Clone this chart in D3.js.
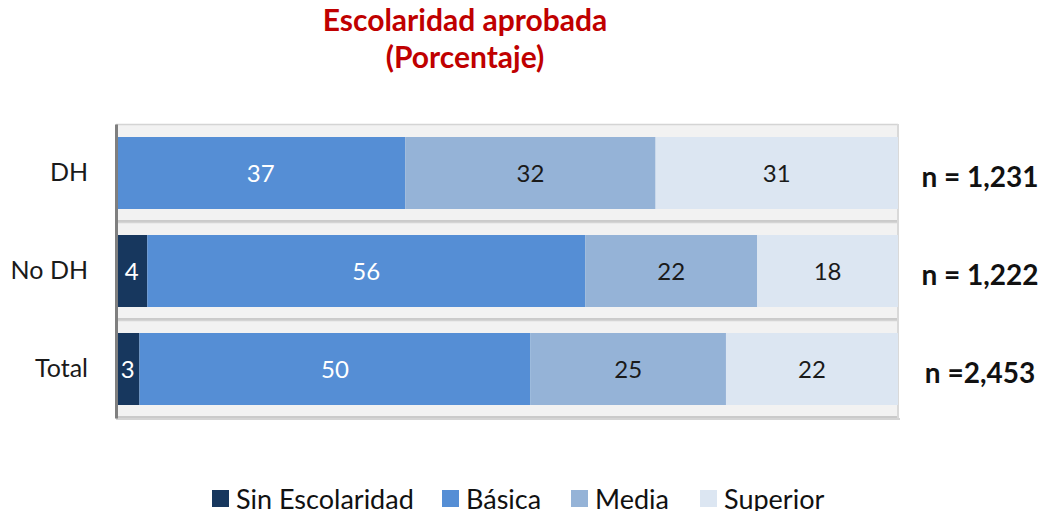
<!DOCTYPE html>
<html>
<head>
<meta charset="utf-8">
<script src="https://cdn.jsdelivr.net/npm/d3@7/dist/d3.min.js"></script>
<style>
  body { margin: 0; background: #fff; }
  svg { display: block; font-family: Lato, "Open Sans", sans-serif; }
</style>
</head>
<body>
<div id="chart"></div>
<script>
const categories = ["DH", "No DH", "Total"];
const series = ["Sin Escolaridad", "Básica", "Media", "Superior"];
const sinEscolaridad = [0, 4, 3];
const basica = [37, 56, 50];
const media = [32, 22, 25];
const superior = [31, 18, 22];
const nLabels = ["n = 1,231", "n = 1,222", "n =2,453"];
const colors = ["#17375e", "#558ed5", "#95b3d7", "#dce6f2"];
const labelColors = ["#fff", "#fff", "#1a1a1a", "#1a1a1a"];

const width = 1045, height = 511;
const margin = { top: 124, right: 147, bottom: 93, left: 116 };
const innerWidth = width - margin.left - margin.right;
const innerHeight = height - margin.top - margin.bottom;

const rows = categories.map((c, i) => ({
  cat: c,
  "Sin Escolaridad": sinEscolaridad[i],
  "Básica": basica[i],
  "Media": media[i],
  "Superior": superior[i]
}));
const stacked = d3.stack().keys(series)(rows);

const xScale = d3.scaleLinear().domain([0, 100]).range([0, innerWidth]);
const yScale = d3.scaleBand().domain(categories).range([0, innerHeight]).paddingInner(0);
const barPad = 13;

const svg = d3.select("#chart").append("svg").attr("width", width).attr("height", height);

svg.append("text").attr("x", 465).attr("y", 31).attr("text-anchor", "middle")
  .attr("font-size", 30).attr("font-weight", "bold").attr("fill", "#c00000").text("Escolaridad aprobada");
svg.append("text").attr("x", 465).attr("y", 68).attr("text-anchor", "middle")
  .attr("font-size", 30).attr("font-weight", "bold").attr("fill", "#c00000").text("(Porcentaje)");

const chart = svg.append("g").attr("transform", `translate(${margin.left},${margin.top})`);

// plot wall bands
const bands = chart.selectAll(".band").data(categories).enter().append("g").attr("class", "band");
bands.append("rect")
  .attr("x", 0).attr("y", d => yScale(d))
  .attr("width", innerWidth).attr("height", yScale.bandwidth())
  .attr("fill", "#f2f2f2");
bands.append("line")
  .attr("x1", 0).attr("x2", innerWidth)
  .attr("y1", d => yScale(d) + 0.5).attr("y2", d => yScale(d) + 0.5)
  .attr("stroke", "#d4d4d4").attr("stroke-width", 1.5);
bands.append("line")
  .attr("x1", 0).attr("x2", innerWidth)
  .attr("y1", d => yScale(d) + yScale.bandwidth() - 1).attr("y2", d => yScale(d) + yScale.bandwidth() - 1)
  .attr("stroke", "#bcbcbc").attr("stroke-width", 1.5);
chart.append("line").attr("x1", innerWidth).attr("x2", innerWidth).attr("y1", 0).attr("y2", innerHeight)
  .attr("stroke", "#d9d9d9").attr("stroke-width", 2);
chart.append("line").attr("x1", 0).attr("x2", innerWidth + 2).attr("y1", innerHeight + 1).attr("y2", innerHeight + 1)
  .attr("stroke", "#d4d4d4").attr("stroke-width", 2);

const layers = chart.selectAll(".layer").data(stacked).enter().append("g")
  .attr("class", "layer").attr("fill", (d, i) => colors[i]);
layers.selectAll("rect").data(d => d).enter().append("rect")
  .attr("x", d => xScale(d[0]))
  .attr("y", d => yScale(d.data.cat) + barPad)
  .attr("width", d => xScale(d[1]) - xScale(d[0]))
  .attr("height", yScale.bandwidth() - 2 * barPad);

stacked.forEach((layer, li) => {
  chart.append("g").selectAll("text").data(layer.filter(d => d[1] - d[0] > 0)).enter().append("text")
    .attr("x", d => (xScale(d[0]) + xScale(d[1])) / 2)
    .attr("y", d => yScale(d.data.cat) + yScale.bandwidth() / 2)
    .attr("dy", "0.36em").attr("text-anchor", "middle")
    .attr("font-size", 24).attr("fill", labelColors[li])
    .text(d => d[1] - d[0]);
});

const yAxis = d3.axisLeft(yScale).tickSize(0).tickPadding(28);
const yG = chart.append("g").call(yAxis);
yG.select(".domain").attr("stroke", "#7f7f7f").attr("stroke-width", 3);
yG.selectAll("text").attr("font-size", 25).attr("fill", "#1a1a1a").attr("font-family", "Lato, 'Open Sans', sans-serif");

chart.append("g").selectAll("text").data(nLabels).enter().append("text")
  .attr("x", innerWidth + 82)
  .attr("y", (d, i) => yScale(categories[i]) + yScale.bandwidth() / 2 + 4)
  .attr("dy", "0.36em").attr("text-anchor", "middle")
  .attr("font-size", 28).attr("font-weight", "bold").attr("fill", "#111")
  .text(d => d);

// legend
const legendX = [212, 442, 571, 700];
const legend = svg.append("g").selectAll("g").data(series).enter().append("g")
  .attr("transform", (d, i) => `translate(${legendX[i]},490)`);
legend.append("rect").attr("width", 17).attr("height", 17).attr("fill", (d, i) => colors[i]);
legend.append("text").attr("x", 24).attr("y", 9).attr("dy", "0.36em")
  .attr("font-size", 27).attr("fill", "#111").text(d => d);
</script>
</body>
</html>
